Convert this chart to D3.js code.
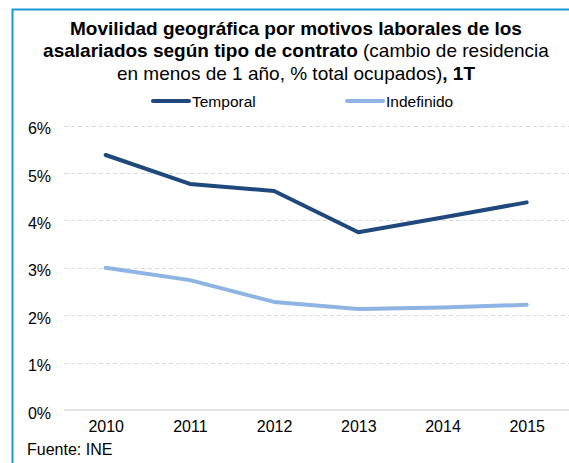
<!DOCTYPE html>
<html>
<head>
<meta charset="utf-8">
<script src="https://cdn.jsdelivr.net/npm/d3@7"></script>
<style>
  body { margin: 0; background: #fff; }
  svg { font-family: Arial, "Liberation Sans", sans-serif; }
</style>
</head>
<body>
<div id="chart"></div>
<script>
// data
let years = ["2010", "2011", "2012", "2013", "2014", "2015"];
let temporal = [5.38, 4.77, 4.62, 3.75, 4.06, 4.38];
let indefinido = [3.0, 2.74, 2.28, 2.13, 2.16, 2.22];
let y_ticks = [0, 1, 2, 3, 4, 5, 6];
let series_names = ["Temporal", "Indefinido"];

let width = 569, height = 463;
let colors = ["#1f497d", "#8db4e2"];

let svg = d3.select("#chart").append("svg")
    .attr("width", width).attr("height", height);

/* frame: only top and left edges are visible in the crop */
svg.append("path")
    .attr("d", "M12.5," + height + " V9.5 H" + width)
    .attr("fill", "none")
    .attr("stroke", "#1a9bd4")
    .attr("stroke-width", 2);

/* title */
let cx = 296;
let title = svg.append("text").attr("text-anchor", "middle").attr("font-size", 19).attr("fill", "#000");
title.append("tspan").attr("x", cx).attr("y", 34.5).attr("font-weight", "bold")
    .text("Movilidad geográfica por motivos laborales de los");
let t2 = title.append("tspan").attr("x", cx).attr("y", 57);
t2.append("tspan").attr("font-weight", "bold").text("asalariados según tipo de contrato");
t2.append("tspan").text(" (cambio de residencia");
let t3 = title.append("tspan").attr("x", cx).attr("y", 79.5);
t3.append("tspan").text("en menos de 1 año, % total ocupados)");
t3.append("tspan").attr("font-weight", "bold").text(", 1T");

/* scales */
let x = d3.scalePoint().domain(years).range([105.7, 526.7]);
let y = d3.scaleLinear().domain([0, 6]).range([410, 125.6]);

/* grid */
svg.append("g").selectAll("line")
    .data(y_ticks.filter(function(d) { return d > 0; }))
    .enter().append("line")
    .attr("x1", 64).attr("x2", width)
    .attr("y1", function(d) { return Math.round(y(d)) + 0.5; })
    .attr("y2", function(d) { return Math.round(y(d)) + 0.5; })
    .attr("stroke", "#d9d9d9")
    .attr("stroke-dasharray", "4,3");

svg.append("line")
    .attr("x1", 64).attr("x2", width)
    .attr("y1", y(0)).attr("y2", y(0))
    .attr("stroke", "#d9d9d9").attr("stroke-width", 1.5);

/* y axis labels */
let yAxis = d3.axisLeft(y).tickValues(y_ticks).tickSize(0).tickPadding(0)
    .tickFormat(function(d) { return d + "%"; });
let gy = svg.append("g").attr("transform", "translate(51,3)").call(yAxis);
gy.select(".domain").remove();
gy.selectAll("text").attr("font-size", 16).attr("fill", "#000").attr("font-family", null);

/* x axis labels */
let xAxis = d3.axisBottom(x).tickSize(0).tickPadding(0);
let gx = svg.append("g").attr("transform", "translate(0,421)").call(xAxis);
gx.select(".domain").remove();
gx.selectAll("text").attr("font-size", 16).attr("fill", "#000").attr("font-family", null);

/* lines */
let line = d3.line()
    .x(function(d, i) { return x(years[i]); })
    .y(function(d) { return y(d); });

[temporal, indefinido].forEach(function(values, k) {
    svg.append("path")
        .datum(values)
        .attr("d", line)
        .attr("fill", "none")
        .attr("stroke", colors[k])
        .attr("stroke-width", 4)
        .attr("stroke-linejoin", "round")
        .attr("stroke-linecap", "round");
});

/* legend */
let legend_x = [153, 347];
series_names.forEach(function(name, k) {
    let g = svg.append("g").attr("transform", "translate(" + legend_x[k] + ",101)");
    g.append("line").attr("x1", 0).attr("x2", 36).attr("y1", 0).attr("y2", 0)
        .attr("stroke", colors[k]).attr("stroke-width", 4).attr("stroke-linecap", "round");
    g.append("text").attr("x", 39).attr("y", 5.5).attr("font-size", 15.5).attr("fill", "#000").text(name);
});

/* source */
svg.append("text").attr("x", 27).attr("y", 455).attr("font-size", 16).attr("fill", "#000")
    .text("Fuente: INE");
</script>
</body>
</html>
